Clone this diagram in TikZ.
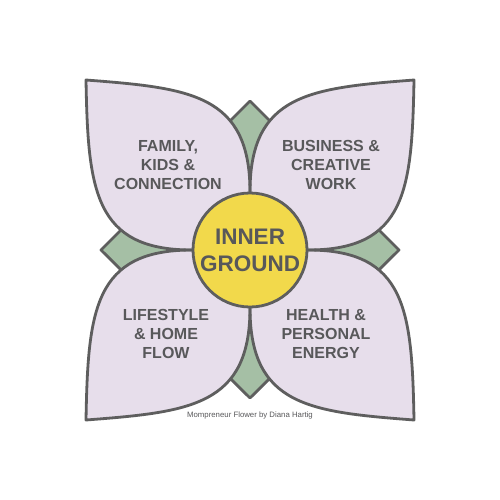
\documentclass[tikz,border=0pt]{standalone}
\usepackage{fontspec}
\setmainfont{Liberation Sans}
\definecolor{petal}{HTML}{E7DEEB}
\definecolor{leafc}{HTML}{A5BFA5}
\definecolor{core}{HTML}{F2D94B}
\definecolor{ink}{HTML}{5E5E5E}
\definecolor{txt}{HTML}{58585A}
\begin{document}
\begin{tikzpicture}[x=1pt,y=-1pt,line join=round,
  outline/.style={draw=ink,line width=2.8pt},
  petallabel/.style={font=\bfseries\fontsize{16}{19}\selectfont,text=txt,align=center,inner sep=0pt},
  corelabel/.style={font=\bfseries\fontsize{22.5}{27}\selectfont,text=txt,align=center}]
\useasboundingbox (0,0) rectangle (500,500);
\fill[white] (0,0) rectangle (500,500);
\begin{scope}[shift={(250,250)}]
  % green leaves behind petals
  \draw[outline,fill=leafc] (0,-149) -- (149,0) -- (0,148) -- (-149,0) -- cycle;
  % petal fills
  \foreach \sx/\sy in {1/1,-1/1,1/-1,-1/-1}
    \fill[petal,xscale=\sx,yscale=\sy] (-164,-170) .. controls (-60,-162) and (0,-156) .. (0,-58) -- (0,0) -- (-58,0) .. controls (-156,0) and (-162,-60) .. (-164,-170) -- cycle;
  % petal outlines
  \foreach \sx/\sy in {1/1,-1/1,1/-1,-1/-1}
    \draw[outline,xscale=\sx,yscale=\sy] (-164,-170) .. controls (-60,-162) and (0,-156) .. (0,-58) -- (0,0) -- (-58,0) .. controls (-156,0) and (-162,-60) .. (-164,-170) -- cycle;
  % centre
  \node[circle,outline,fill=core,minimum size=114pt,inner sep=0pt,corelabel] (core) at (0,0) {INNER\\GROUND};
\end{scope}
\node[petallabel] (family) at (168,165) {FAMILY,\\KIDS \&\\CONNECTION};
\node[petallabel] (business) at (331,165) {BUSINESS \&\\CREATIVE\\WORK};
\node[petallabel] (lifestyle) at (166,334) {LIFESTYLE\\\& HOME\\FLOW};
\node[petallabel] (health) at (326,334) {HEALTH \&\\PERSONAL\\ENERGY};
\node[font=\fontsize{7.8}{9}\selectfont,text=txt] (credit) at (250,415) {Mompreneur Flower by Diana Hartig};
\end{tikzpicture}
\end{document}
